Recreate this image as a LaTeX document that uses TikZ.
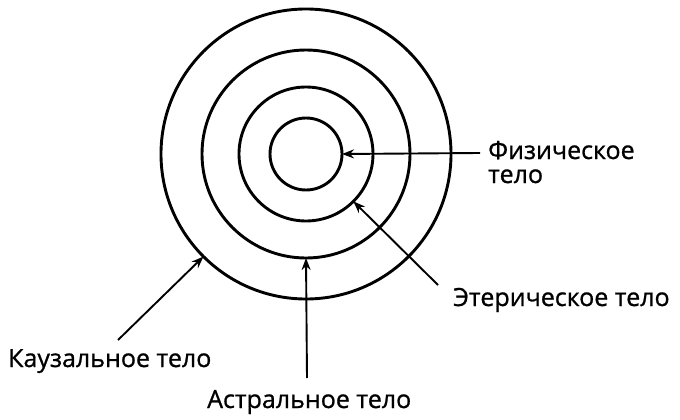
\documentclass[tikz,border=0pt]{standalone}
\usepackage{fontspec}
\setmainfont{Open Sans}
\newfontface\lblfont{Open Sans}[FakeBold=0.9]
\usetikzlibrary{arrows.meta}
\begin{document}
\begin{tikzpicture}[x=1pt,y=-1pt,
  ring/.style={draw=black,line width=2.9pt,circle,inner sep=0pt,outer sep=0pt},
  lbl/.style={font=\lblfont\fontsize{25}{28}\selectfont,inner sep=0pt,anchor=base west},
  ptr/.style={-{Stealth[length=12pt,width=9pt]},line width=1.9pt}]
\useasboundingbox (0,0) rectangle (680,420);
\coordinate (c) at (306,154);
\node[ring,minimum size=290pt] (kauz) at (c) {};
\node[ring,minimum size=208pt] (astr) at (c) {};
\node[ring,minimum size=134pt] (eter) at (c) {};
\node[ring,minimum size=72pt] (fiz) at (c) {};
\node[lbl] (lfiz) at (488,159) {Физическое};
\node[lbl] (lfiz2) at (488,183) {тело};
\node[lbl] (leter) at (453,306) {Этерическое тело};
\node[lbl] (lkauz) at (8,367) {Каузальное тело};
\node[lbl] (lastr) at (207,408) {Астральное тело};
\coordinate (tfiz) at (480,153);
\coordinate (teter) at (438,285);
\coordinate (tkauz) at (118,340);
\coordinate (tastr) at (307,378);
\draw[ptr] (tfiz) -- (fiz.east);
\draw[ptr] (teter) -- (eter.315);
\draw[ptr] (tkauz) -- (kauz.225);
\draw[ptr] (tastr) -- (astr.south);
\end{tikzpicture}
\end{document}
